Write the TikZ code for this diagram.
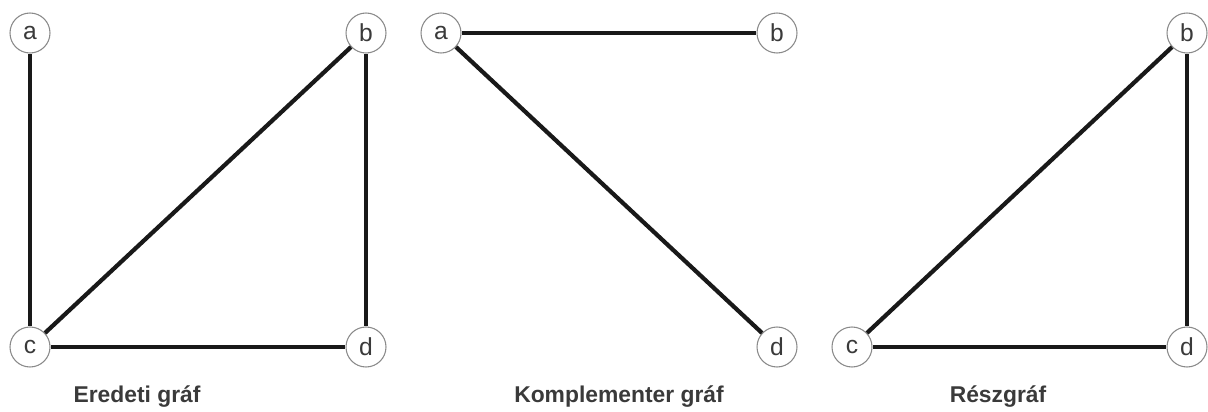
\documentclass[tikz,border=0pt]{standalone}
\usepackage{fontspec}
\setmainfont{Liberation Sans}
\usetikzlibrary{positioning}
\definecolor{circgray}{HTML}{8A8A8A}
\definecolor{textgray}{HTML}{3A3A3A}

\begin{document}
\begin{tikzpicture}[
    vertex/.style={circle, draw=circgray, line width=0.6pt, fill=white,
                   minimum size=0.8cm, inner sep=0pt,
                   font=\fontsize{14}{16}\selectfont\color{textgray}},
    edge/.style={line width=2.4pt, color=black!90},
    caption/.style={font=\fontsize{13}{15}\selectfont\bfseries\color{textgray}}
]
\useasboundingbox (0,0) rectangle (24.16,8.22);

% --- Eredeti graf ---
\node[vertex] (g1a) at (0.60,7.56) {a};
\node[vertex] (g1b) at (7.32,7.56) {b};
\node[vertex] (g1c) at (0.60,1.28) {c};
\node[vertex] (g1d) at (7.32,1.28) {d};
\node[caption] (cap1) at (2.74,0.28) {Eredeti gráf};

% --- Komplementer graf ---
\node[vertex] (g2a) at (8.82,7.56) {a};
\node[vertex] (g2b) at (15.54,7.56) {b};
\node[vertex] (g2d) at (15.54,1.28) {d};
\node[caption] (cap2) at (12.38,0.28) {Komplementer gráf};

% --- Reszgraf ---
\node[vertex] (g3b) at (23.74,7.56) {b};
\node[vertex] (g3c) at (17.04,1.28) {c};
\node[vertex] (g3d) at (23.74,1.28) {d};
\node[caption] (cap3) at (19.96,0.28) {Részgráf};

% --- edges ---
\draw[edge] (g1a) -- (g1c);
\draw[edge] (g1c) -- (g1b);
\draw[edge] (g1b) -- (g1d);
\draw[edge] (g1c) -- (g1d);

\draw[edge] (g2a) -- (g2b);
\draw[edge] (g2a) -- (g2d);

\draw[edge] (g3c) -- (g3b);
\draw[edge] (g3b) -- (g3d);
\draw[edge] (g3c) -- (g3d);

\end{tikzpicture}
\end{document}
